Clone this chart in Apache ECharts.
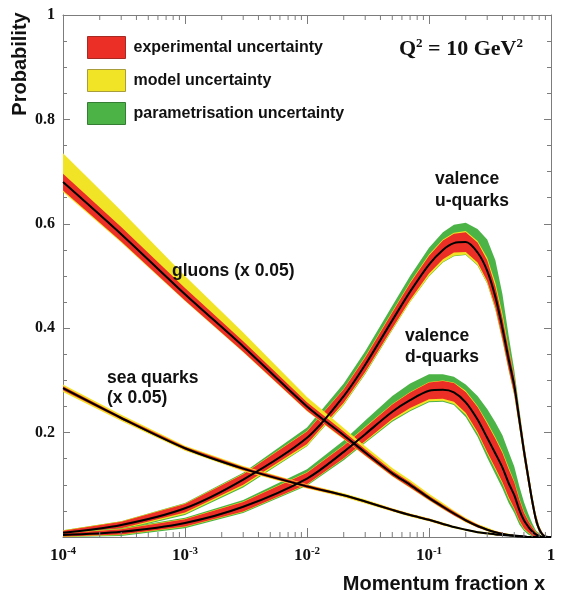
<!DOCTYPE html>
<html lang="en">
<head>
<meta charset="UTF-8"/>
<script src="https://cdn.jsdelivr.net/npm/echarts@6/dist/echarts.min.js"></script>
<title>PDF uncertainties</title>
<style>
    html, body { margin: 0; padding: 0; background: #fff; }
    #chart { width: 565px; height: 613px; }
</style>
</head>
<body>
<div id="chart"></div>
<script type="text/javascript">
// momentum fraction x at which the curves were read
var xs = [1e-4, 3e-4, 1e-3, 3e-3, 0.01, 0.02, 0.03, 0.05, 0.07, 0.1, 0.13, 0.16, 0.2, 0.25, 0.3,
          0.35, 0.4, 0.45, 0.5, 0.55, 0.6, 0.65, 0.7, 0.75, 0.8, 0.85, 0.9, 0.95, 1.0];

// valence u-quarks: central value and band extents (below / above the centre)
var uMid    = [0.008, 0.023, 0.055, 0.11, 0.19, 0.27, 0.33, 0.415, 0.47, 0.522, 0.55, 0.563, 0.565, 0.545, 0.51,
               0.46, 0.40, 0.34, 0.29, 0.225, 0.165, 0.115, 0.07, 0.035, 0.015, 0.005, 0.001, 0, 0];
var uRed    = [0.004, 0.006, 0.008, 0.01, 0.012, 0.013, 0.014, 0.015, 0.016, 0.017, 0.018, 0.018, 0.019, 0.019, 0.02,
               0.02, 0.02, 0.018, 0.016, 0.014, 0.013, 0.012, 0.01, 0.008, 0.005, 0.003, 0.001, 0, 0];
var uYelDn  = [0.005, 0.008, 0.011, 0.013, 0.015, 0.016, 0.017, 0.018, 0.02, 0.022, 0.023, 0.024, 0.024, 0.024, 0.024,
               0.024, 0.023, 0.02, 0.018, 0.015, 0.014, 0.013, 0.011, 0.009, 0.006, 0.003, 0.001, 0, 0];
var uYelUp  = [0.005, 0.007, 0.009, 0.011, 0.013, 0.014, 0.016, 0.017, 0.018, 0.019, 0.02, 0.02, 0.021, 0.022, 0.025,
               0.027, 0.027, 0.022, 0.018, 0.015, 0.014, 0.013, 0.011, 0.009, 0.006, 0.003, 0.001, 0, 0];
var uGrnDn  = [0.007, 0.01, 0.013, 0.015, 0.016, 0.017, 0.018, 0.019, 0.02, 0.023, 0.024, 0.025, 0.025, 0.025, 0.025,
               0.025, 0.024, 0.021, 0.019, 0.016, 0.015, 0.013, 0.011, 0.009, 0.006, 0.003, 0.001, 0, 0];
var uGrnUp  = [0.005, 0.007, 0.01, 0.013, 0.02, 0.024, 0.026, 0.028, 0.03, 0.032, 0.034, 0.035, 0.037, 0.045, 0.06,
               0.07, 0.065, 0.045, 0.03, 0.02, 0.016, 0.014, 0.012, 0.01, 0.006, 0.003, 0.001, 0, 0];

// valence d-quarks
var dMid    = [0.004, 0.01, 0.027, 0.058, 0.112, 0.163, 0.197, 0.24, 0.262, 0.28, 0.282, 0.277, 0.258, 0.225, 0.19,
               0.16, 0.133, 0.103, 0.08, 0.052, 0.032, 0.02, 0.011, 0.005, 0.002, 0, 0, 0, 0];
var dRed    = [0.003, 0.005, 0.007, 0.009, 0.011, 0.012, 0.013, 0.014, 0.015, 0.016, 0.017, 0.018, 0.02, 0.024, 0.027,
               0.028, 0.028, 0.027, 0.025, 0.02, 0.015, 0.011, 0.008, 0.004, 0.002, 0, 0, 0, 0];
var dYelDn  = [0.004, 0.006, 0.008, 0.01, 0.012, 0.013, 0.015, 0.017, 0.019, 0.02, 0.021, 0.022, 0.024, 0.027, 0.03,
               0.031, 0.031, 0.03, 0.027, 0.022, 0.017, 0.012, 0.009, 0.005, 0.002, 0, 0, 0, 0];
var dYelUp  = [0.004, 0.006, 0.008, 0.01, 0.012, 0.013, 0.014, 0.015, 0.016, 0.017, 0.018, 0.019, 0.022, 0.026, 0.03,
               0.031, 0.031, 0.03, 0.027, 0.022, 0.017, 0.012, 0.009, 0.005, 0.002, 0, 0, 0, 0];
var dGrnDn  = [0.005, 0.008, 0.01, 0.012, 0.014, 0.016, 0.017, 0.019, 0.021, 0.022, 0.023, 0.024, 0.028, 0.033, 0.038,
               0.04, 0.04, 0.038, 0.034, 0.028, 0.02, 0.015, 0.01, 0.006, 0.003, 0.001, 0, 0, 0];
var dGrnUp  = [0.005, 0.007, 0.01, 0.013, 0.018, 0.022, 0.026, 0.03, 0.032, 0.032, 0.03, 0.03, 0.034, 0.045, 0.055,
               0.06, 0.062, 0.06, 0.055, 0.045, 0.035, 0.025, 0.016, 0.008, 0.004, 0.001, 0, 0, 0];

// gluons (x 0.05)
var gMid    = [0.68, 0.58, 0.465, 0.365, 0.25, 0.195, 0.162, 0.122, 0.1, 0.075, 0.058, 0.045, 0.032, 0.021, 0.014,
               0.009, 0.006, 0.004, 0.003, 0.002, 0.001, 0, 0, 0, 0, 0, 0, 0, 0];
var gRed    = [0.016, 0.014, 0.012, 0.01, 0.008, 0.007, 0.006, 0.005, 0.005, 0.004, 0.004, 0.004, 0.003, 0.003, 0.002,
               0.002, 0.002, 0.001, 0.001, 0.001, 0.001, 0, 0, 0, 0, 0, 0, 0, 0];
var gYelDn  = [0.019, 0.016, 0.013, 0.011, 0.009, 0.008, 0.007, 0.006, 0.006, 0.005, 0.005, 0.004, 0.004, 0.003, 0.003,
               0.002, 0.002, 0.002, 0.001, 0.001, 0.001, 0, 0, 0, 0, 0, 0, 0, 0];
var gYelUp  = [0.055, 0.045, 0.035, 0.027, 0.018, 0.014, 0.012, 0.01, 0.009, 0.008, 0.007, 0.006, 0.005, 0.004, 0.004,
               0.003, 0.002, 0.002, 0.001, 0.001, 0.001, 0, 0, 0, 0, 0, 0, 0, 0];

// sea quarks (x 0.05)
var sMid    = [0.285, 0.228, 0.17, 0.131, 0.097, 0.08, 0.068, 0.052, 0.042, 0.033, 0.025, 0.019, 0.014, 0.009, 0.007,
               0.005, 0.004, 0.003, 0.002, 0.001, 0.001, 0, 0, 0, 0, 0, 0, 0, 0];
var sRed    = [0.004, 0.003, 0.003, 0.003, 0.003, 0.002, 0.002, 0.002, 0.002, 0.002, 0.002, 0.001, 0.001, 0.001, 0.001,
               0.001, 0.001, 0.001, 0, 0, 0, 0, 0, 0, 0, 0, 0, 0, 0];
var sYel    = [0.007, 0.006, 0.005, 0.005, 0.004, 0.004, 0.004, 0.003, 0.003, 0.003, 0.003, 0.002, 0.002, 0.002, 0.002,
               0.002, 0.001, 0.001, 0.001, 0.001, 0, 0, 0, 0, 0, 0, 0, 0, 0];

// minor ticks of the log axis
var xMinorTicks = [];
[1e-4, 1e-3, 1e-2, 1e-1].forEach(function (d) {
    for (var k = 2; k <= 9; k++) xMinorTicks.push(k * d);
});

var RED = '#ec2f26', YELLOW = '#f1e427', GREEN = '#4cb447';
var AXIS = '#7c7c7c';
var SANS = '"Liberation Sans", Arial, sans-serif';
var SERIF = '"Liberation Serif", "Times New Roman", serif';

function band(name, color, mid, dn, up) {
    var pts = xs.map(function (x, i) {
        return [x, Math.max(0, mid[i] - dn[i]), mid[i] + up[i]];
    });
    return {
        type: 'custom',
        name: name,
        silent: true,
        clip: true,
        itemStyle: { color: color },
        data: pts,
        renderItem: function (params, api) {
            if (params.dataIndex !== 0) return null;
            var upper = [], lower = [];
            for (var i = 0; i < pts.length; i++) {
                upper.push(api.coord([pts[i][0], pts[i][2]]));
                lower.push(api.coord([pts[i][0], pts[i][1]]));
            }
            return {
                type: 'polygon',
                shape: { points: upper.concat(lower.reverse()) },
                style: { fill: color }
            };
        }
    };
}

function centre(mid) {
    return {
        type: 'line',
        silent: true,
        symbol: 'none',
        smooth: 0.3,
        lineStyle: { color: '#000', width: 2 },
        data: xs.map(function (x, i) { return [x, mid[i]]; })
    };
}

function label(x, y, text, lh) {
    return {
        type: 'text', x: x, y: y, z: 100,
        style: { text: text, lineHeight: lh || 20, fontFamily: SANS, fontWeight: 'bold', fontSize: 17.5, fill: '#111' }
    };
}

var myChart = echarts.init(document.getElementById('chart'));

var option = {
    animation: false,
    backgroundColor: '#fff',
    grid: { left: 63, right: 14, top: 15, bottom: 76 },
    legend: {
        left: 87, top: 36, padding: 0,
        orient: 'vertical',
        itemWidth: 38, itemHeight: 22, itemGap: 10,
        selectedMode: false,
        textStyle: { fontFamily: SANS, fontWeight: 'bold', fontSize: 16, color: '#111', padding: [0, 0, 0, 3] },
        data: [
            { name: 'experimental uncertainty', icon: 'rect', itemStyle: { color: RED, borderColor: '#a52a24', borderWidth: 1 } },
            { name: 'model uncertainty', icon: 'rect', itemStyle: { color: YELLOW, borderColor: '#a89d3a', borderWidth: 1 } },
            { name: 'parametrisation uncertainty', icon: 'rect', itemStyle: { color: GREEN, borderColor: '#357d33', borderWidth: 1 } }
        ]
    },
    xAxis: [{
        type: 'log', logBase: 10, min: 1e-4, max: 1,
        axisLine: { onZero: false, lineStyle: { color: AXIS, width: 1 } },
        axisTick: { inside: true, length: 9, lineStyle: { color: AXIS } },
        splitLine: { show: false },
        axisLabel: {
            margin: 9,
            showMaxLabel: true, showMinLabel: true,
            formatter: function (v) {
                var e = Math.round(Math.log(v) / Math.LN10);
                if (e === 0) return '{b|1}';
                return '{b|10}{s|' + e + '}';
            },
            rich: {
                b: { fontFamily: SERIF, fontWeight: 'bold', fontSize: 17, color: '#111', lineHeight: 20 },
                s: { fontFamily: SERIF, fontWeight: 'bold', fontSize: 11, color: '#111', lineHeight: 12, verticalAlign: 'top' }
            }
        }
    }, {
        type: 'log', logBase: 10, min: 1e-4, max: 1, position: 'top',
        axisLine: { onZero: false, lineStyle: { color: AXIS, width: 1 } },
        axisTick: { inside: true, length: 9, lineStyle: { color: AXIS } },
        axisLabel: { show: false },
        splitLine: { show: false }
    }],
    yAxis: [{
        type: 'value', min: 0, max: 1, interval: 0.2,
        axisLine: { show: true, lineStyle: { color: AXIS, width: 1 } },
        axisTick: { inside: true, length: 7, lineStyle: { color: AXIS } },
        minorTick: { show: true, splitNumber: 4, length: 4, lineStyle: { color: AXIS } },
        splitLine: { show: false },
        axisLabel: {
            margin: 8,
            fontFamily: SERIF, fontWeight: 'bold', fontSize: 16, color: '#111',
            formatter: function (v) {
                if (v === 0) return '';
                if (v === 1) return '1';
                return v.toFixed(1);
            }
        }
    }, {
        type: 'value', min: 0, max: 1, interval: 0.2, position: 'right',
        axisLine: { show: true, lineStyle: { color: AXIS, width: 1 } },
        axisTick: { inside: true, length: 7, lineStyle: { color: AXIS } },
        minorTick: { show: true, splitNumber: 4, length: 4, lineStyle: { color: AXIS } },
        splitLine: { show: false },
        axisLabel: { show: false }
    }],
    series: [
        band('parametrisation uncertainty', GREEN, uMid, uGrnDn, uGrnUp),
        band('model uncertainty', YELLOW, uMid, uYelDn, uYelUp),
        band('experimental uncertainty', RED, uMid, uRed, uRed),
        centre(uMid),
        band('parametrisation uncertainty', GREEN, dMid, dGrnDn, dGrnUp),
        band('model uncertainty', YELLOW, dMid, dYelDn, dYelUp),
        band('experimental uncertainty', RED, dMid, dRed, dRed),
        centre(dMid),
        band('model uncertainty', YELLOW, gMid, gYelDn, gYelUp),
        band('experimental uncertainty', RED, gMid, gRed, gRed),
        centre(gMid),
        band('model uncertainty', YELLOW, sMid, sYel, sYel),
        band('experimental uncertainty', RED, sMid, sRed, sRed),
        centre(sMid),
        {
            // minor ticks on the bottom and top log axes
            type: 'custom',
            silent: true,
            clip: false,
            z: 5,
            data: xMinorTicks.map(function (v) { return [v, 0]; }),
            renderItem: function (params, api) {
                var b = api.coord([api.value(0), 0]);
                var t = api.coord([api.value(0), 1]);
                return {
                    type: 'group',
                    children: [
                        { type: 'line', shape: { x1: b[0], y1: b[1], x2: b[0], y2: b[1] - 5 }, style: { stroke: AXIS, lineWidth: 1 } },
                        { type: 'line', shape: { x1: t[0], y1: t[1], x2: t[0], y2: t[1] + 5 }, style: { stroke: AXIS, lineWidth: 1 } }
                    ]
                };
            }
        }
    ],
    graphic: [
        {
            type: 'text', x: 20, y: 64, rotation: Math.PI / 2, z: 100,
            style: { text: 'Probability', align: 'center', verticalAlign: 'middle',
                     fontFamily: SANS, fontWeight: 'bold', fontSize: 20, fill: '#111' }
        },
        {
            type: 'text', x: 545, y: 584, z: 100,
            style: { text: 'Momentum fraction x', align: 'right', verticalAlign: 'middle',
                     fontFamily: SANS, fontWeight: 'bold', fontSize: 20, fill: '#111' }
        },
        {
            type: 'text', x: 399, y: 37, z: 100,
            style: {
                text: '{q|Q}{s|2}{q| = 10 GeV}{s|2}',
                rich: {
                    q: { fontFamily: SERIF, fontWeight: 'bold', fontSize: 22, fill: '#111', lineHeight: 24 },
                    s: { fontFamily: SERIF, fontWeight: 'bold', fontSize: 13, fill: '#111', lineHeight: 13, verticalAlign: 'top' }
                }
            }
        },
        label(172, 261, 'gluons (x 0.05)'),
        label(107, 368, 'sea quarks\n(x 0.05)', 20),
        label(435, 168, 'valence\nu-quarks', 22),
        label(405, 326, 'valence\nd-quarks', 21)
    ]
};

myChart.setOption(option);
</script>
</body>
</html>
